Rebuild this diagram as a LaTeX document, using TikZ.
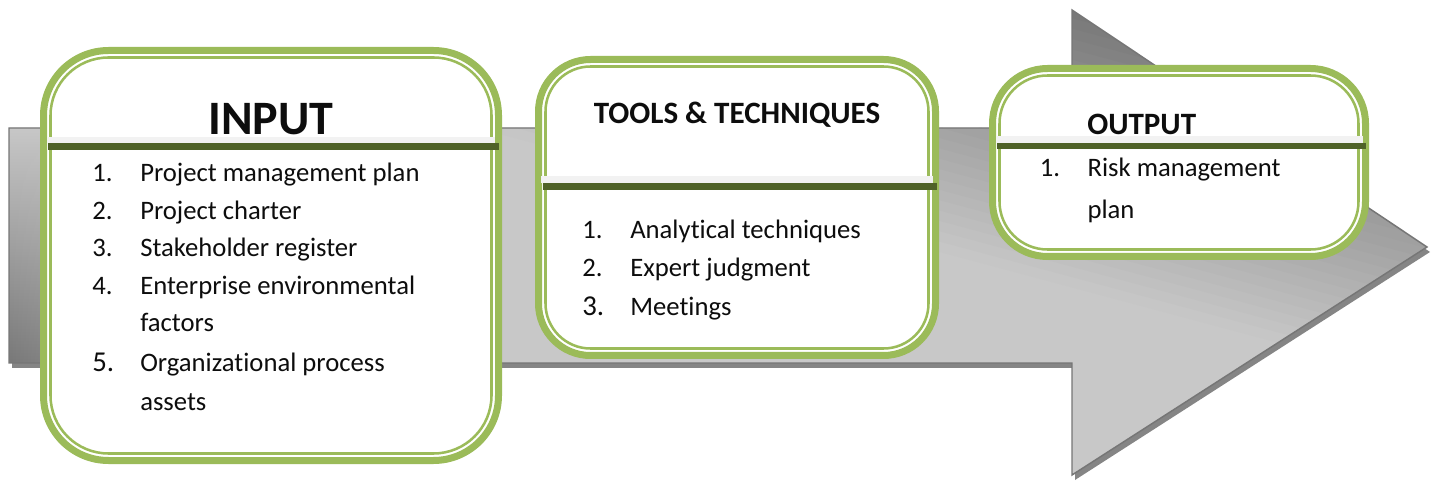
\documentclass[tikz,border=0pt]{standalone}
\usepackage{fontspec}
\setmainfont{Carlito}[Ligatures={NoCommon}]
\usetikzlibrary{calc,fadings}
\definecolor{leaf}{HTML}{9BBB59}
\definecolor{olive}{HTML}{4F6228}
\definecolor{barlight}{HTML}{F2F2F2}
\definecolor{arrowedge}{HTML}{767676}
\definecolor{arrowshadow}{HTML}{858585}
\definecolor{arrowbase}{HTML}{C8C8C8}
\definecolor{inktext}{HTML}{0D0D0D}
\tikzfading[name=fadeeast, left color=transparent!0, right color=transparent!100]
\tikzset{
  gbox/.style={draw=leaf, line width=5.25pt, fill=white, rectangle, inner sep=0pt, outer sep=0pt},
  gline/.style={draw=leaf, line width=1.9pt},
  item/.style={inner sep=0pt, anchor=base west, text=inktext, font=\fontsize{20}{24}\selectfont},
  bignum/.style={inner sep=0pt, anchor=base west, text=inktext, font=\fontsize{21.6}{25}\selectfont},
  headbig/.style={inner sep=0pt, anchor=base, text=inktext, font=\fontsize{36}{40}\selectfont\bfseries},
  headmid/.style={inner sep=0pt, text=inktext, font=\fontsize{23.3}{28}\selectfont\bfseries},
}
\newcommand{\arrowoutline}{(9,128) -- (1072,128) -- (1072,10) -- (1427,247) -- (1072,475) -- (1072,363) -- (9,363) -- cycle}
\begin{document}
\begin{tikzpicture}[x=0.75pt,y=-0.75pt]
\useasboundingbox (0,0) rectangle (1435,484);

% --- the big grey arrow: drop shadow
\begin{scope}[shift={(3,5)}]
  \fill[arrowshadow] \arrowoutline;
\end{scope}
% body: light grey, darkening in bands towards the upper right
\begin{scope}
  \clip \arrowoutline;
  \fill[arrowbase] (0,0) rectangle (1435,484);
  \foreach \k in {0,...,27}{
    \pgfmathsetmacro{\sa}{10*\k}
    \pgfmathsetmacro{\sb}{\k<27 ? 10*\k+10.6 : 420}
    \pgfmathtruncatemacro{\g}{max(118, 200-(10*\k+5)*0.2963)}
    \definecolor{bandc}{RGB}{\g,\g,\g}
    \fill[bandc] ({\sa*0.259-2000*0.966},{-\sa*0.966-2000*0.259})
              -- ({\sa*0.259+2000*0.966},{-\sa*0.966+2000*0.259})
              -- ({\sb*0.259+2000*0.966},{-\sb*0.966+2000*0.259})
              -- ({\sb*0.259-2000*0.966},{-\sb*0.966-2000*0.259}) -- cycle;
  }
  % tail end darkens towards the bottom
  \shade[top color=black!22, bottom color=black!53, path fading=fadeeast]
    (9,128) rectangle (300,363);
\end{scope}
\draw[arrowedge, line width=1.1pt] \arrowoutline;

% --- three rounded green frames
\node[gbox, minimum width=341.25pt, minimum height=307.5pt, rounded corners=48.75pt] (inbox) at (271,255.5) {};
\node[gbox, minimum width=297.75pt, minimum height=222pt, rounded corners=39pt] (toolbox) at (737,207.5) {};
\node[gbox, minimum width=279.75pt, minimum height=141pt, rounded corners=41.25pt] (outbox) at (1179,162.5) {};

\draw[gline, rounded corners=43.5pt] ($(inbox.north west)+(7,7)$) rectangle ($(inbox.south east)+(-7,-7)$);
\draw[gline, rounded corners=33.75pt] ($(toolbox.north west)+(7,7)$) rectangle ($(toolbox.south east)+(-7,-7)$);
\draw[gline, rounded corners=36pt] ($(outbox.north west)+(7,7)$) rectangle ($(outbox.south east)+(-7,-7)$);

% --- header rules under each title
\fill[olive] (47.7,143.3) rectangle (499,150);
\fill[barlight] (46.7,136.7) rectangle (495,143.3);
\fill[olive] (542.7,183.3) rectangle (936.7,190);
\fill[barlight] (540.7,176) rectangle (933,183.3);
\fill[olive] (997,143.3) rectangle (1366,149.3);
\fill[barlight] (996,136) rectangle (1362.7,143.3);

% --- INPUT
\node[headbig] (intitle) at (271,135) {INPUT};
\node[item] (inn1) at (92,181.7) {1.};
\node[item] (ina1) at (140,181.7) {Project management plan};
\node[item] (inn2) at (92,220) {2.};
\node[item] (ina2) at (140,220) {Project charter};
\node[item] (inn3) at (92,257) {3.};
\node[item] (ina3) at (140,257) {Stakeholder register};
\node[item] (inn4) at (92,295) {4.};
\node[item] (ina4) at (140,295) {Enterprise environmental};
\node[item] (ina4b) at (140,331.7) {factors};
\node[bignum] (inn5) at (92,371.7) {5.};
\node[item] (ina5) at (140,371.7) {Organizational process};
\node[item] (ina5b) at (140,410.7) {assets};

% --- TOOLS & TECHNIQUES
\node[headmid, anchor=base] (tooltitle) at (737,123.3) {TOOLS \& TECHNIQUES};
\node[item] (tn1) at (582,238.3) {1.};
\node[item] (ta1) at (630,238.3) {Analytical techniques};
\node[item] (tn2) at (582,276.7) {2.};
\node[item] (ta2) at (630,276.7) {Expert judgment};
\node[bignum] (tn3) at (582,316) {3.};
\node[item] (ta3) at (630,316) {Meetings};

% --- OUTPUT
\node[headmid, anchor=base west] (outtitle) at (1087,135) {OUTPUT};
\node[item] (on1) at (1039.5,176.7) {1.};
\node[item] (oa1) at (1087.3,176.7) {Risk management};
\node[item] (oa1b) at (1087.3,218.3) {plan};
\end{tikzpicture}
\end{document}
